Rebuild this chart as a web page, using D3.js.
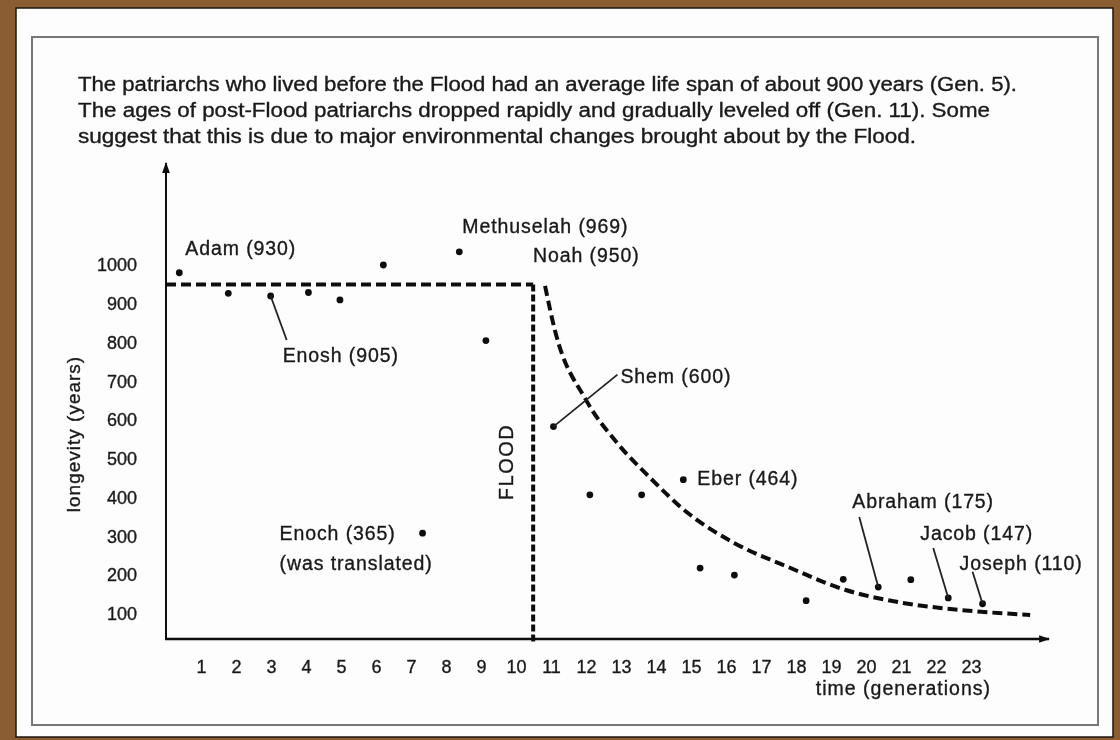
<!DOCTYPE html>
<html>
<head>
<meta charset="utf-8">
<script src="https://cdn.jsdelivr.net/npm/d3@7"></script>
<style>
  html, body { margin: 0; padding: 0; background: #8a5d33; }
  svg text { font-family: "Liberation Sans", Arial, sans-serif; fill: #1a1a1a; stroke: #1a1a1a; stroke-width: 0.35; }
</style>
</head>
<body>
<svg id="chart"></svg>
<script>
// header note
const noteLines = [
    'The patriarchs who lived before the Flood had an average life span of about 900 years (Gen. 5).',
    'The ages of post-Flood patriarchs dropped rapidly and gradually leveled off (Gen. 11). Some',
    'suggest that this is due to major environmental changes brought about by the Flood.'
]

// patriarchs as plotted (generation, longevity in years)
const gens = [0.38, 1.78, 2.99, 4.07, 4.97, 6.21, 7.33, 8.38, 9.14,
              11.07, 12.11, 13.59, 14.78, 15.26, 16.24, 18.29, 19.35, 20.35, 21.28, 22.35, 23.33]
const years = [980, 927, 920, 929, 910, 1000, 308, 1034, 805,
               583, 407, 407, 446, 218, 200, 134, 189, 169, 188, 141, 126]
const labels = ['Adam (930)', '', 'Enosh (905)', '', '', '', 'Enoch (365)', 'Methuselah (969)', '',
                'Shem (600)', '', '', 'Eber (464)', '', '', '', '', 'Abraham (175)', '', 'Jacob (147)', 'Joseph (110)']

// trend lines
const preFloodAvg = 950
const floodGen = 10.49
const curveGen = [10.83, 11.11, 12.0, 12.89, 13.83, 14.91, 16.23, 17.77, 19.4, 21.06, 22.69, 24.69]
const curveYears = [946, 832, 652, 541, 451, 360, 283, 221, 162, 128, 110, 97]

// axes
const xTicks = d3.range(1, 24)
const yTicks = [100, 200, 300, 400, 500, 600, 700, 800, 900, 1000]

const width = 1120, height = 740
const plotLeft = 166, plotBottom = 639

const svg = d3.select('#chart')
              .attr('width', width)
              .attr('height', height)
              .attr('viewBox', [0, 0, width, height])

const defs = svg.append('defs')
defs.append('filter').attr('id', 'scan')
    .append('feGaussianBlur').attr('stdDeviation', 0.55)
defs.append('marker')
    .attr('id', 'arrow')
    .attr('viewBox', '0 -5 10 10')
    .attr('refX', 9).attr('refY', 0)
    .attr('markerWidth', 11).attr('markerHeight', 11)
    .attr('markerUnits', 'userSpaceOnUse')
    .attr('orient', 'auto')
  .append('path')
    .attr('d', 'M0,-3.5L10,0L0,3.5Z')
    .attr('fill', '#111')

// page (brown frame, white sheet)
svg.append('rect').attr('width', width).attr('height', height).attr('fill', '#8a5d33')
svg.append('rect')
   .attr('x', 16).attr('y', 8).attr('width', 1097).attr('height', 729)
   .attr('fill', '#fdfdfd').attr('stroke', '#1c140c').attr('stroke-width', 1.5)

const g = svg.append('g').attr('filter', 'url(#scan)')

g.append('rect')
 .attr('x', 32).attr('y', 37).attr('width', 1066).attr('height', 688)
 .attr('fill', 'none').attr('stroke', '#777').attr('stroke-width', 2)

g.append('g')
 .attr('font-size', 19.5)
 .selectAll('text')
 .data(noteLines)
 .join('text')
   .attr('x', 78)
   .attr('y', (d, i) => 84 + i * 26)
   .attr('dy', '0.35em')
   .attr('textLength', (d, i) => [939, 912, 838][i])
   .attr('lengthAdjust', 'spacingAndGlyphs')
   .text(d => d)

const x = d3.scaleLinear([0, 23], [plotLeft, 971])
const y = d3.scaleLinear([35, 1000], [plotBottom, 265])

// axis lines with arrows
g.append('line')
 .attr('x1', plotLeft).attr('x2', plotLeft)
 .attr('y1', plotBottom + 1).attr('y2', 163)
 .attr('stroke', '#111').attr('stroke-width', 2)
 .attr('marker-end', 'url(#arrow)')
g.append('line')
 .attr('x1', plotLeft - 1).attr('x2', 1049)
 .attr('y1', plotBottom).attr('y2', plotBottom)
 .attr('stroke', '#111').attr('stroke-width', 2.5)
 .attr('marker-end', 'url(#arrow)')

g.append('g')
 .attr('transform', `translate(${plotLeft},0)`)
 .call(d3.axisLeft(y).tickValues(yTicks).tickSize(0).tickPadding(29).tickFormat(d3.format('d')))
 .call(a => a.select('.domain').remove())
 .call(a => a.selectAll('text').attr('font-size', 18).attr('fill', '#1a1a1a').attr('font-family', null))

g.append('g')
 .attr('transform', `translate(0,${plotBottom})`)
 .call(d3.axisBottom(x).tickValues(xTicks).tickSize(0).tickPadding(21))
 .call(a => a.select('.domain').remove())
 .call(a => a.selectAll('text').attr('font-size', 18).attr('fill', '#1a1a1a').attr('font-family', null))

g.append('text')
 .attr('transform', `translate(73,434) rotate(-90)`)
 .attr('text-anchor', 'middle').attr('dy', '0.35em')
 .attr('font-size', 19).attr('letter-spacing', 1)
 .text('longevity (years)')

g.append('text')
 .attr('x', 991).attr('y', 688)
 .attr('text-anchor', 'end').attr('dy', '0.35em')
 .attr('font-size', 19.5).attr('letter-spacing', 1)
 .text('time (generations)')

// pre-flood average and the flood
g.append('path')
 .attr('d', d3.line()([[x(0), y(preFloodAvg)], [x(floodGen), y(preFloodAvg)]]))
 .attr('fill', 'none').attr('stroke', '#111').attr('stroke-width', 4)
 .attr('stroke-dasharray', '10 5')
g.append('path')
 .attr('d', d3.line()([[x(floodGen), y(preFloodAvg)], [x(floodGen), plotBottom + 4]]))
 .attr('fill', 'none').attr('stroke', '#111').attr('stroke-width', 4)
 .attr('stroke-dasharray', '7 3')

g.append('text')
 .attr('transform', `translate(${x(floodGen) - 27},462) rotate(-90)`)
 .attr('text-anchor', 'middle').attr('dy', '0.35em')
 .attr('font-size', 20).attr('letter-spacing', 1.5)
 .text('FLOOD')

// post-flood decline
const curveLine = d3.line()
                    .curve(d3.curveMonotoneX)
                    .x(i => x(curveGen[i]))
                    .y(i => y(curveYears[i]))
g.append('path')
 .attr('d', curveLine(d3.range(curveGen.length)))
 .attr('fill', 'none').attr('stroke', '#111').attr('stroke-width', 4)
 .attr('stroke-dasharray', '10 5')

// dots
g.append('g')
 .attr('fill', '#111')
 .selectAll('circle')
 .data(d3.range(gens.length))
 .join('circle')
   .attr('cx', i => x(gens[i]))
   .attr('cy', i => y(years[i]))
   .attr('r', 3.4)

// label placement relative to each dot: text offset, optional leader end
const place = {
    0: {dx: 6, dy: -25},
    2: {dx: 12, dy: 59, lead: [16, 44]},
    6: {dx: -143, dy: 0, sub: '(was translated)'},
    7: {dx: 3, dy: -26},
    9: {dx: 67, dy: -50, lead: [64, -52]},
    12: {dx: 14, dy: -2},
    17: {dx: -26, dy: -86, lead: [-19, -70]},
    19: {dx: -28, dy: -65, lead: [-15, -50]},
    20: {dx: -23, dy: -41, lead: [-10, -32]}
}

const ann = g.append('g').attr('font-size', 19.5).attr('letter-spacing', 0.9)
for (let i in place) {
    const p = place[i], cx = x(gens[i]), cy = y(years[i])
    if (p.lead) {
        ann.append('line')
           .attr('x1', cx).attr('y1', cy)
           .attr('x2', cx + p.lead[0]).attr('y2', cy + p.lead[1])
           .attr('stroke', '#222').attr('stroke-width', 1.8)
    }
    ann.append('text')
       .attr('x', cx + p.dx).attr('y', cy + p.dy)
       .attr('dy', '0.35em')
       .text(labels[i])
    if (p.sub) {
        ann.append('text')
           .attr('x', cx + p.dx).attr('y', cy + p.dy + 30)
           .attr('dy', '0.35em')
           .text(p.sub)
    }
}

// Noah sits at the top of the post-flood curve
ann.append('text')
   .attr('x', x(curveGen[0]) - 12).attr('y', y(curveYears[0]) - 31)
   .attr('dy', '0.35em')
   .text('Noah (950)')
</script>
</body>
</html>
